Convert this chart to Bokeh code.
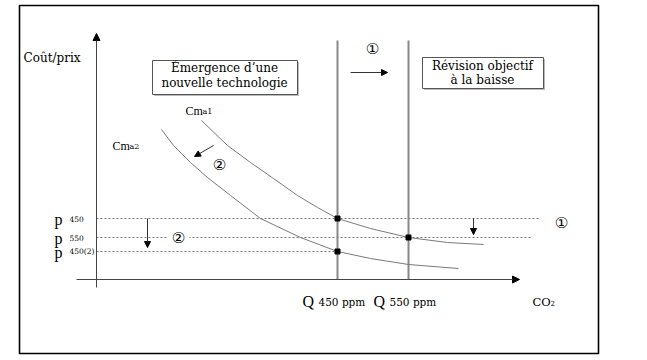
from bokeh.plotting import figure
from bokeh.models import Range1d, Arrow, NormalHead, ColumnDataSource
from bokeh.core.properties import value
from bokeh.embed import file_html
from bokeh.resources import INLINE

# ---- diagram data (schematic units: x = CO2 quantity, y = cost/price) ----
cma1_x = [105, 131, 154, 177, 201, 221, 241, 274, 312, 351, 387]
cma1_y = [159, 134, 117, 101, 84, 72, 61, 51, 42, 37, 35]
cma2_x = [65, 77, 94, 111, 134, 164, 204, 241, 274, 312, 362]
cma2_y = [150, 134, 117, 102, 84, 61, 42, 28, 21, 15, 11]

price_levels = [61, 42, 28]
price_labels = ["450", "550", "450(2)"]
price_line_ends = [444, 434, 241]

quantity_levels = [241, 312]
quantity_labels = ["450 ppm", "550 ppm"]
quantity_line_top = 239

eq_x = [241, 312, 241]
eq_y = [61, 42, 28]

SERIF = "DejaVu Serif"
TIMES = "Liberation Serif"

p = figure(width=647, height=360, x_range=Range1d(-96, 551), y_range=Range1d(-81, 279),
           output_backend="svg", toolbar_location=None, min_border=0,
           x_axis_type=None, y_axis_type=None)
p.grid.visible = False
p.outline_line_color = None
p.background_fill_color = "white"
p.border_fill_color = "white"

# outer frame
p.quad(left=[-77], right=[502], top=[274], bottom=[-74], fill_color=None,
       line_color="black", line_width=1.6)

# axes with arrow heads
p.add_layout(Arrow(end=NormalHead(size=7, fill_color="black", line_color="black"),
                   x_start=0, y_start=-8, x_end=0, y_end=246, line_color="#444", line_width=1))
p.add_layout(Arrow(end=NormalHead(size=7, fill_color="black", line_color="black"),
                   x_start=-20, y_start=0, x_end=423, y_end=0, line_color="#444", line_width=1))

# price dashed lines
p.segment(x0=[0] * 3, y0=price_levels, x1=price_line_ends, y1=price_levels,
          line_color="#777", line_width=1, line_dash="2 2")

# quantity vertical lines
p.segment(x0=quantity_levels, y0=[0, 0], x1=quantity_levels,
          y1=[quantity_line_top] * 2, line_color="#888", line_width=2)

# cost curves
p.line(cma1_x, cma1_y, line_color="#7a7a7a", line_width=1)
p.line(cma2_x, cma2_y, line_color="#7a7a7a", line_width=1)

# equilibrium points
p.scatter(eq_x, eq_y, marker="square", size=5, fill_color="black", line_color="black")

# text boxes (with a faint shadow)
p.quad(left=[57.5, 327.5], right=[202.5, 448.5], top=[217.5, 220.5], bottom=[183.5, 189.5],
       fill_color="#bbbbbb", line_color=None)
p.quad(left=[56, 326], right=[201, 447], top=[219, 222], bottom=[185, 191],
       fill_color="white", line_color="#555", line_width=1)

def txt(x, y, t, size, align="left", baseline="middle", font=SERIF, color="black"):
    src = ColumnDataSource(dict(x=x, y=y, t=t))
    p.text(x="x", y="y", text="t", source=src, text_font=value(font),
           text_font_size=size, text_align=align, text_baseline=baseline,
           text_color=color)

txt([128, 128], [212, 197], ["Émergence d’une", "nouvelle technologie"], "12px", align="center")
txt([386, 386], [214, 200], ["Révision objectif", "à la baisse"], "12px", align="center")
txt([-73], [222], ["Coût/prix"], "12px")

# curve labels
txt([89, 16], [169, 134], ["Cm", "Cm"], "12px", font=TIMES)
txt([106, 33], [168, 133], ["a1", "a2"], "8px")

# price labels
txt([-42] * 3, [lv - 1 for lv in price_levels], ["p"] * 3, "16px", baseline="alphabetic", font=TIMES)
txt([-27] * 3, price_levels, price_labels, "7.5px")

# quantity labels
txt([q - 35 for q in quantity_levels], [-22, -22], ["Q", "Q"], "16px", baseline="alphabetic", font=TIMES)
txt([q - 19 for q in quantity_levels], [-22, -22], quantity_labels, "10.5px", baseline="alphabetic")
txt([436], [-22], ["CO"], "11.5px", baseline="alphabetic")
txt([454], [-23], ["2"], "7px", baseline="alphabetic")

# white gap behind the circled number on the dashed line
p.scatter([82], [42], marker="square", size=22, fill_color="white", line_color=None)

# circled step numbers
txt([276, 465, 123, 82], [231, 57, 115, 42], ["①", "①", "②", "②"], "15px",
    align="center", font="DejaVu Sans")

# shift arrows
head = dict(size=6, fill_color="black", line_color="black")
p.add_layout(Arrow(end=NormalHead(**head), x_start=254, y_start=207, x_end=291, y_end=207,
                   line_color="#333", line_width=1))
p.add_layout(Arrow(end=NormalHead(**head), x_start=117, y_start=134, x_end=98, y_end=123,
                   line_color="#333", line_width=1))
p.add_layout(Arrow(end=NormalHead(**head), x_start=51, y_start=61, x_end=51, y_end=32,
                   line_color="#333", line_width=1))
p.add_layout(Arrow(end=NormalHead(**head), x_start=377, y_start=61, x_end=377, y_end=45,
                   line_color="#333", line_width=1))

open("out.html", "w").write(file_html(p, INLINE))
